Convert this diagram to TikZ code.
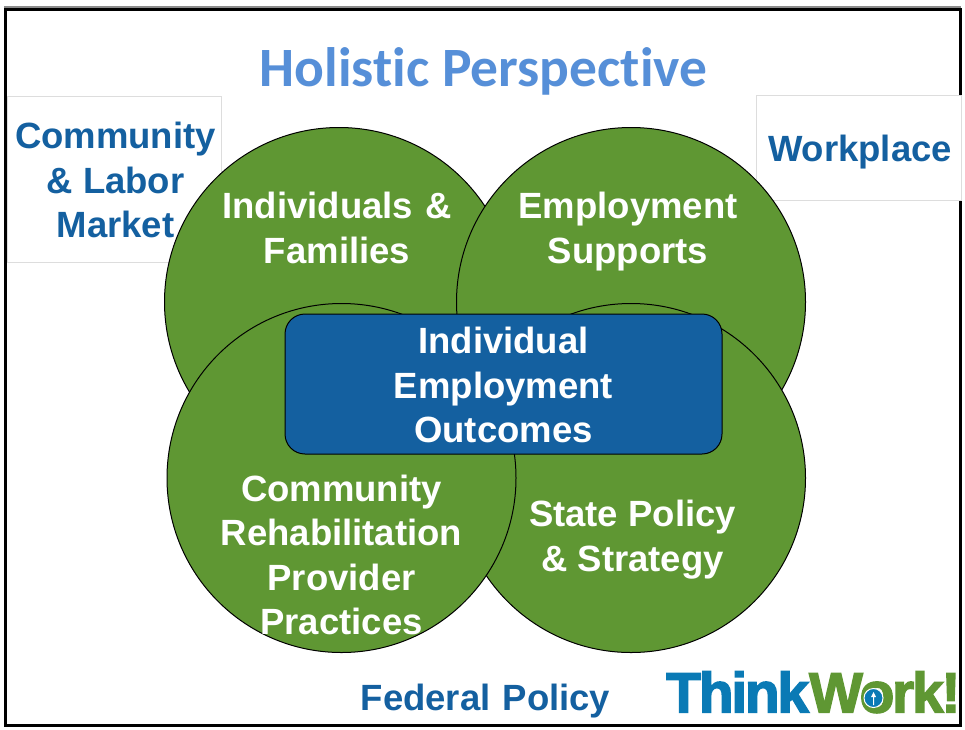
\documentclass[tikz,border=0pt]{standalone}
\usepackage{fontspec}
\setmainfont{Liberation Sans}
\newfontfamily\titlefont{Carlito}[Ligatures=NoCommon]
\newfontfamily\logofont{Liberation Sans}[FakeBold=2.5,LetterSpace=-4]
\definecolor{leaf}{HTML}{5F9733}
\definecolor{deep}{HTML}{1460A0}
\definecolor{sky}{HTML}{568FD8}
\definecolor{logoblue}{HTML}{0A7AB5}
\definecolor{pale}{HTML}{DDDDDD}
\tikzset{
  ring/.style={circle,draw=black,line width=1pt,fill=leaf,minimum size=349pt,inner sep=0pt},
  whitelabel/.style={text=white,font=\fontsize{36.5}{44.5}\selectfont\bfseries,align=center,inner sep=0pt},
  bluelabel/.style={text=deep,font=\fontsize{36.5}{44.5}\selectfont\bfseries,align=center,inner sep=0pt},
  panel/.style={draw=pale,line width=0.8pt,fill=white},
}
\begin{document}
\begin{tikzpicture}[x=1pt,y=-1pt]
\useasboundingbox (0,0) rectangle (965,729);
\fill[white] (0,0) rectangle (965,729);
\draw[black!45,line width=1.5pt] (4,7) -- (961,7);
\draw[black,line width=3pt] (5,9) rectangle (960.5,725);
\node[panel,minimum width=214pt,minimum height=166pt,inner sep=0pt] (lefttab) at (114.5,179) {};
\node[panel,minimum width=205pt,minimum height=105pt,inner sep=0pt] (righttab) at (858.5,148) {};
\node[ring] (fam) at (339,302) {};
\node[ring] (sup) at (631,302) {};
\node[ring] (state) at (631,478) {};
\node[ring] (crp) at (341.5,478) {};
\node[draw=black,line width=1pt,fill=deep,rounded corners=20pt,minimum width=437pt,minimum height=140pt,inner sep=0pt] (core) at (503.5,384) {};
\node[font=\titlefont\fontsize{55.5}{60}\selectfont\bfseries,text=sky,inner sep=0pt,anchor=base] (title) at (483.5,86) {Holistic Perspective};
\node[bluelabel] (cl) at (115.5,180) {Community\\\& Labor\\Market};
\node[bluelabel] (wp) at (860,152) {Workplace};
\node[whitelabel] (famt) at (337,228) {Individuals\ \kern2pt\&\\Families};
\node[whitelabel] (supt) at (628,231.5) {Employment\\Supports};
\node[whitelabel] (coret) at (503.5,385) {Individual\\Employment\\Outcomes};
\node[whitelabel] (crpt) at (341.5,555) {Community\\Rehabilitation\\Provider\\Practices};
\node[whitelabel] (statet) at (632.5,539.5) {State Policy\\\& Strategy};
\node[bluelabel] (fed) at (485.5,701) {Federal\ \kern2pt Policy};
\node[font=\logofont\fontsize{57}{60}\selectfont\bfseries,inner sep=0pt,anchor=base west] (logo) at (666,712.5)
  {\textcolor{logoblue}{Think}\textcolor{leaf}{Work!}};
\node[circle,fill=logoblue,draw=white,line width=1pt,minimum size=19pt,inner sep=0pt] (emblem) at (873.5,698) {};
\fill[white] (873.5,692) -- (876,697) -- (871,697) -- cycle (873,697) rectangle (874,705);
\end{tikzpicture}
\end{document}
